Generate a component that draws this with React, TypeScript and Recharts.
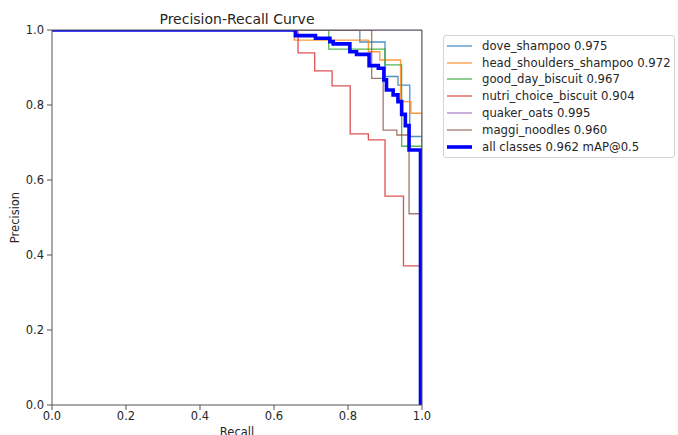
import { LineChart, Line, XAxis, YAxis, ReferenceLine, Legend } from "recharts";

// recall breakpoints and the precision that holds from each one
const doveRecall = [0, 0.832, 0.9, 0.935, 0.967, 1.0];
const dovePrecision = [1, 0.968, 0.876, 0.853, 0.716, 0];

const headRecall = [0, 0.655, 0.855, 0.886, 0.942, 0.97, 1.0];
const headPrecision = [1, 0.973, 0.942, 0.92, 0.809, 0.778, 0];

const goodDayRecall = [0, 0.748, 0.9, 0.945, 1.0];
const goodDayPrecision = [1, 0.949, 0.907, 0.69, 0];

const nutriRecall = [0, 0.665, 0.71, 0.757, 0.806, 0.855, 0.9, 0.95, 1.0];
const nutriPrecision = [1, 0.939, 0.891, 0.851, 0.723, 0.707, 0.557, 0.371, 0];

const quakerRecall = [0, 0.999, 1.0];
const quakerPrecision = [1, 1, 0];

const maggiRecall = [0, 0.864, 0.895, 0.932, 0.965, 1.0];
const maggiPrecision = [1, 0.871, 0.733, 0.72, 0.51, 0];

const allRecall = [
  0, 0.658, 0.712, 0.751, 0.76, 0.805, 0.823, 0.857, 0.882, 0.897, 0.904, 0.922,
  0.935, 0.945, 0.955, 0.965, 0.996,
];
const allPrecision = [
  1, 0.985, 0.978, 0.969, 0.963, 0.942, 0.935, 0.905, 0.898, 0.867, 0.84, 0.827,
  0.809, 0.775, 0.745, 0.68, 0,
];

const xTicks = [0, 0.2, 0.4, 0.6, 0.8, 1.0];
const yTicks = [0, 0.2, 0.4, 0.6, 0.8, 1.0];

const toRows = (r: number[], p: number[]) => r.map((v, i) => ({ r: v, p: p[i] }));

const series = [
  { name: "dove_shampoo 0.975", color: "#1f77b4", width: 1.3, data: toRows(doveRecall, dovePrecision) },
  { name: "head_shoulders_shampoo 0.972", color: "#ff7f0e", width: 1.3, data: toRows(headRecall, headPrecision) },
  { name: "good_day_biscuit 0.967", color: "#2ca02c", width: 1.3, data: toRows(goodDayRecall, goodDayPrecision) },
  { name: "nutri_choice_biscuit 0.904", color: "#d62728", width: 1.3, data: toRows(nutriRecall, nutriPrecision) },
  { name: "quaker_oats 0.995", color: "#9467bd", width: 1.3, data: toRows(quakerRecall, quakerPrecision) },
  { name: "maggi_noodles 0.960", color: "#8c564b", width: 1.3, data: toRows(maggiRecall, maggiPrecision) },
  { name: "all classes 0.962 mAP@0.5", color: "#0000ff", width: 3.6, data: toRows(allRecall, allPrecision) },
];

const W = 678;
const H = 435;
const font = '"DejaVu Sans", sans-serif';
const ink = "#262626";
const spine = "#555";

function PrLegend() {
  return (
    <div
      style={{
        border: "1px solid #d4d4d4",
        borderRadius: 3,
        background: "#fff",
        padding: "1.5px 0",
        width: 232,
        boxSizing: "border-box",
        fontFamily: font,
        fontSize: 11.7,
        color: ink,
      }}
    >
      {series.map((s) => (
        <div key={s.name} style={{ display: "flex", alignItems: "center", height: 16.8 }}>
          <svg width={38} height={10} style={{ flex: "none" }}>
            <line x1={3} x2={28} y1={5} y2={5} stroke={s.color} strokeWidth={s.width} strokeOpacity={s.width > 2 ? 1 : 0.8} />
          </svg>
          <span style={{ whiteSpace: "nowrap" }}>{s.name}</span>
        </div>
      ))}
    </div>
  );
}

export default function App() {
  return (
    <div style={{ position: "absolute", left: 0, top: 0, width: W, height: H, background: "#fff", fontFamily: font }}>
      <div
        style={{
          position: "absolute",
          left: 52,
          width: 370,
          top: 11,
          textAlign: "center",
          fontSize: 14,
          lineHeight: "16px",
          color: ink,
        }}
      >
        Precision-Recall Curve
      </div>
      <LineChart width={W} height={H} margin={{ top: 30, right: 256, bottom: 0, left: 0 }}>
        <XAxis
          type="number"
          dataKey="r"
          domain={[0, 1]}
          ticks={xTicks}
          allowDataOverflow
          height={30}
          tickSize={5}
          tickMargin={2}
          stroke={spine}
          tick={{ fill: ink, fontSize: 11.5, fontFamily: font }}
          tickFormatter={(v) => Number(v).toFixed(1)}
          label={{ value: "Recall", position: "insideBottom", offset: -1, fill: ink, fontSize: 11.5, fontFamily: font }}
        />
        <YAxis
          type="number"
          dataKey="p"
          domain={[0, 1]}
          ticks={yTicks}
          allowDataOverflow
          width={52}
          tickSize={5}
          tickMargin={3}
          stroke={spine}
          tick={{ fill: ink, fontSize: 11.5, fontFamily: font }}
          tickFormatter={(v) => Number(v).toFixed(1)}
          label={{
            value: "Precision",
            angle: -90,
            position: "insideLeft",
            offset: 15,
            fill: ink,
            fontSize: 11.5,
            fontFamily: font,
            style: { textAnchor: "middle" },
          }}
        />
        {series.map((s) => (
          <Line
            key={s.name}
            name={s.name}
            data={s.data}
            dataKey="p"
            type="stepAfter"
            stroke={s.color}
            strokeWidth={s.width}
            strokeOpacity={s.width > 2 ? 1 : 0.8}
            dot={false}
            activeDot={false}
            isAnimationActive={false}
          />
        ))}
        <ReferenceLine y={1} stroke={spine} strokeWidth={1} />
        <ReferenceLine x={1} stroke={spine} strokeWidth={1} />
        <Legend
          layout="vertical"
          align="center"
          verticalAlign="middle"
          wrapperStyle={{ left: 443, top: 35, width: 232 }}
          content={() => <PrLegend />}
        />
      </LineChart>
    </div>
  );
}
